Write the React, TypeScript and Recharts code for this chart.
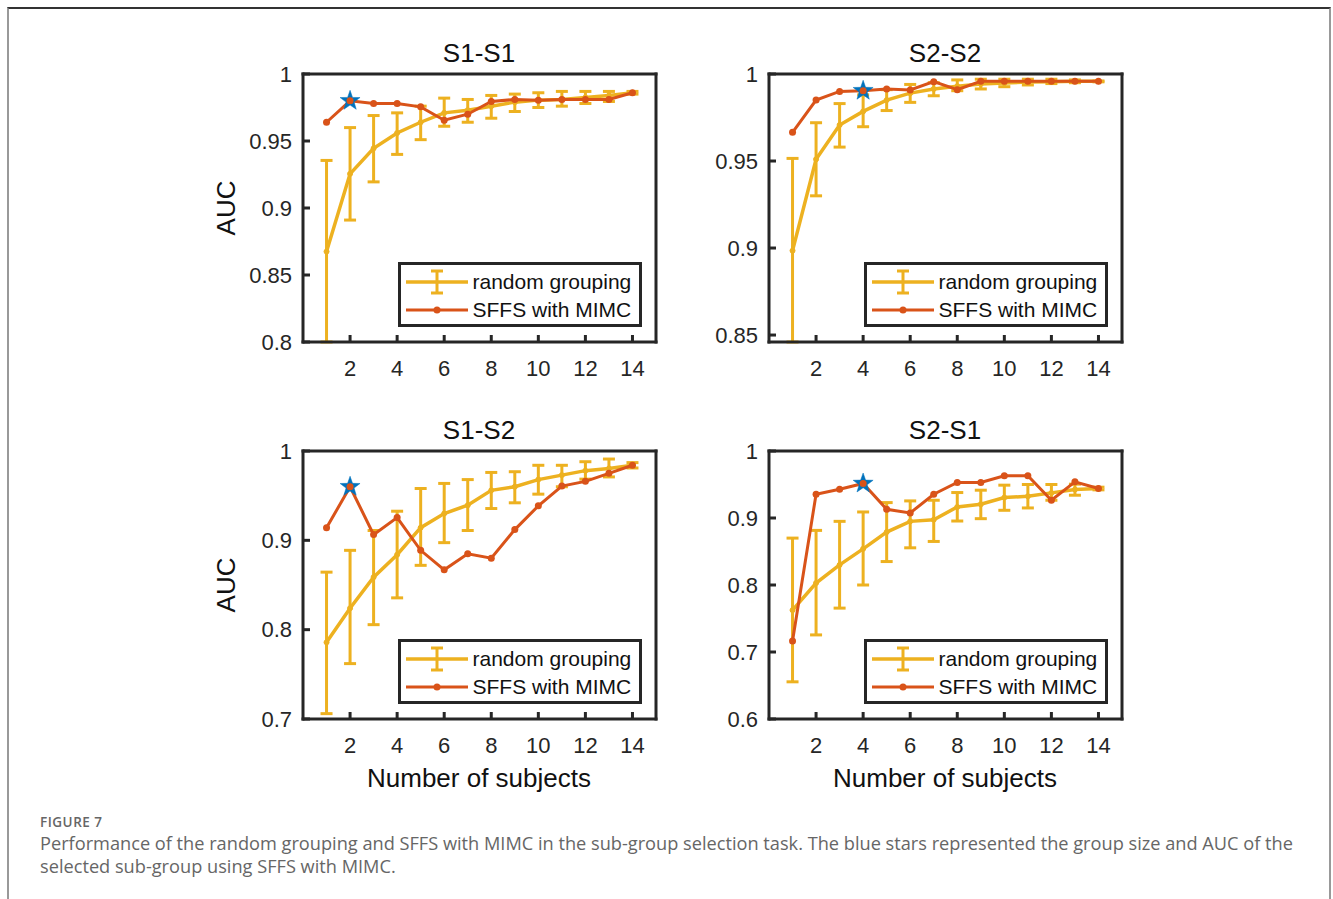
import React from 'react'
import { ComposedChart, ErrorBar, Legend, Line, Scatter, XAxis, YAxis } from 'recharts'

const subjects = [1, 2, 3, 4, 5, 6, 7, 8, 9, 10, 11, 12, 13, 14]
const xTicks = [2, 4, 6, 8, 10, 12, 14]

// S1-S1
const s11Mean = [0.8675, 0.9255, 0.9445, 0.956, 0.964, 0.971, 0.973, 0.976, 0.979, 0.9805, 0.981, 0.9825, 0.984, 0.986]
const s11Low = [0.8, 0.891, 0.9195, 0.94, 0.951, 0.961, 0.964, 0.967, 0.972, 0.975, 0.976, 0.978, 0.9795, 0.985]
const s11High = [0.9355, 0.96, 0.969, 0.971, 0.976, 0.982, 0.981, 0.984, 0.985, 0.986, 0.987, 0.987, 0.987, 0.987]
const s11Sffs = [0.964, 0.98, 0.978, 0.978, 0.9755, 0.9655, 0.97, 0.9795, 0.981, 0.9805, 0.981, 0.981, 0.981, 0.986]
const s11Ticks = [0.8, 0.85, 0.9, 0.95, 1]

// S2-S2
const s22Mean = [0.8985, 0.951, 0.9707, 0.9785, 0.985, 0.989, 0.9914, 0.993, 0.9943, 0.9948, 0.9954, 0.9956, 0.9958, 0.9958]
const s22Low = [0.846, 0.93, 0.958, 0.9697, 0.979, 0.9837, 0.9875, 0.9904, 0.9914, 0.9927, 0.9937, 0.9945, 0.995, 0.9955]
const s22High = [0.9515, 0.972, 0.983, 0.988, 0.991, 0.994, 0.995, 0.9966, 0.997, 0.997, 0.997, 0.997, 0.9966, 0.996]
const s22Sffs = [0.9665, 0.985, 0.99, 0.9904, 0.9914, 0.9908, 0.9956, 0.991, 0.9958, 0.9958, 0.9958, 0.9958, 0.9958, 0.9958]
const s22Ticks = [0.85, 0.9, 0.95, 1]

// S1-S2
const s12Mean = [0.7858, 0.824, 0.8588, 0.8839, 0.9142, 0.93, 0.9393, 0.956, 0.96, 0.968, 0.973, 0.978, 0.9805, 0.984]
const s12Low = [0.706, 0.762, 0.8056, 0.8356, 0.872, 0.8974, 0.911, 0.9356, 0.942, 0.9517, 0.96, 0.9685, 0.971, 0.981]
const s12High = [0.8644, 0.8888, 0.911, 0.9326, 0.958, 0.9637, 0.968, 0.976, 0.9768, 0.984, 0.984, 0.988, 0.991, 0.987]
const s12Sffs = [0.914, 0.96, 0.9064, 0.9255, 0.8888, 0.867, 0.885, 0.88, 0.912, 0.9386, 0.9607, 0.966, 0.975, 0.984]
const s12Ticks = [0.7, 0.8, 0.9, 1]

// S2-S1
const s21Mean = [0.7625, 0.803, 0.83, 0.854, 0.879, 0.895, 0.8975, 0.9165, 0.9205, 0.9305, 0.9325, 0.9375, 0.9425, 0.944]
const s21Low = [0.6555, 0.7255, 0.7655, 0.8, 0.835, 0.8555, 0.865, 0.8955, 0.899, 0.9115, 0.915, 0.9265, 0.934, 0.942]
const s21High = [0.87, 0.8815, 0.895, 0.909, 0.923, 0.9255, 0.9265, 0.938, 0.9415, 0.949, 0.95, 0.95, 0.9505, 0.946]
const s21Sffs = [0.7165, 0.9355, 0.943, 0.9515, 0.913, 0.9075, 0.9355, 0.953, 0.953, 0.963, 0.963, 0.9265, 0.954, 0.944]
const s21Ticks = [0.6, 0.7, 0.8, 0.9, 1]

const YELLOW = '#EDB120'
const RED = '#D95319'
const BLUE = '#0072BD'
const INK = '#262626'
const FONT = '"Liberation Sans", Arial, Helvetica, sans-serif'
const CAPTION_FONT = '"Open Sans", "Noto Sans", sans-serif'

// plot area size (px) shared by all four panels
const PW = 353
const PH = 268
const Y_AXIS_W = 110
const M_TOP = 60
const M_RIGHT = 20

const fmt = (v: number) => String(Number(v.toFixed(3)))

function StarShape(props: any) {
  const { cx, cy } = props
  if (cx == null || cy == null) return null
  const outer = 10.5
  const inner = 4.2
  const pts: string[] = []
  for (let i = 0; i < 10; i++) {
    const r = i % 2 === 0 ? outer : inner
    const a = -Math.PI / 2 + (i * Math.PI) / 5
    pts.push(`${cx + r * Math.cos(a)},${cy + r * Math.sin(a)}`)
  }
  return <polygon points={pts.join(' ')} fill={BLUE} stroke={BLUE} strokeWidth={0.5} />
}

function LegendBox() {
  return (
    <div
      style={{
        position: 'relative',
        boxSizing: 'border-box',
        width: 244,
        height: 65,
        border: `3px solid ${INK}`,
        background: '#fff',
        fontFamily: FONT,
        fontSize: 21,
        color: '#111',
      }}
    >
      <svg width={70} height={60} style={{ position: 'absolute', left: 0, top: 0 }}>
        <line x1={5} y1={17} x2={67} y2={17} stroke={YELLOW} strokeWidth={3.5} />
        <line x1={36} y1={6} x2={36} y2={28} stroke={YELLOW} strokeWidth={3} />
        <line x1={30} y1={6} x2={42} y2={6} stroke={YELLOW} strokeWidth={3} />
        <line x1={30} y1={28} x2={42} y2={28} stroke={YELLOW} strokeWidth={3} />
        <line x1={5} y1={45} x2={67} y2={45} stroke={RED} strokeWidth={3} />
        <circle cx={36} cy={45} r={3.5} fill={RED} />
      </svg>
      <div style={{ position: 'absolute', left: 72, top: 4, lineHeight: '26px', whiteSpace: 'nowrap' }}>
        random grouping
      </div>
      <div style={{ position: 'absolute', left: 72, top: 32, lineHeight: '26px', whiteSpace: 'nowrap' }}>
        SFFS with MIMC
      </div>
    </div>
  )
}

type PanelProps = {
  title: string
  mean: number[]
  low: number[]
  high: number[]
  sffs: number[]
  starN: number
  yDomain: [number, number]
  yTicks: number[]
  plotLeft: number
  plotTop: number
  yLabel?: boolean
  xLabel?: boolean
}

function Panel({ title, mean, low, high, sffs, starN, yDomain, yTicks, plotLeft, plotTop, yLabel, xLabel }: PanelProps) {
  const data = subjects.map((n, i) => ({
    n,
    rg: mean[i],
    rgErr: [mean[i] - low[i], high[i] - mean[i]],
    sffs: sffs[i],
  }))
  const star = [{ n: starN, auc: sffs[starN - 1] }]
  const chartLeft = plotLeft - Y_AXIS_W
  const chartTop = plotTop - M_TOP
  const axisLine = { stroke: INK, strokeWidth: 3, strokeLinecap: 'square' as const }
  const tickLine = { stroke: INK, strokeWidth: 3 }
  const tickStyle = { fontSize: 22, fill: INK, fontFamily: FONT }
  const labelStyle = {
    position: 'absolute' as const,
    fontFamily: FONT,
    fontSize: 26,
    lineHeight: '26px',
    color: '#111',
    textAlign: 'center' as const,
  }

  return (
    <>
      <div style={{ ...labelStyle, left: plotLeft, top: plotTop - 34, width: PW }}>{title}</div>
      {yLabel && (
        <div
          style={{
            ...labelStyle,
            left: 226 - 50,
            top: plotTop + PH / 2 - 13,
            width: 100,
            height: 26,
            transform: 'rotate(-90deg)',
          }}
        >
          AUC
        </div>
      )}
      {xLabel && (
        <div style={{ ...labelStyle, left: plotLeft, top: plotTop + PH + 46, width: PW }}>
          Number of subjects
        </div>
      )}
      <div style={{ position: 'absolute', left: chartLeft, top: chartTop }}>
        <ComposedChart
          width={Y_AXIS_W + PW + M_RIGHT}
          height={M_TOP + PH + 50}
          data={data}
          margin={{ top: M_TOP, right: M_RIGHT, left: 0, bottom: 10 }}
        >
          <XAxis
            xAxisId="main"
            dataKey="n"
            type="number"
            domain={[0, 15]}
            allowDataOverflow
            ticks={xTicks}
            height={40}
            tickSize={-7}
            tickMargin={25.5}
            tick={tickStyle}
            tickLine={tickLine}
            axisLine={axisLine}
          />
          <XAxis
            xAxisId="top"
            orientation="top"
            mirror
            type="number"
            domain={[0, 15]}
            allowDataOverflow
            ticks={xTicks}
            tick={false}
            tickSize={7}
            tickLine={tickLine}
            axisLine={axisLine}
          />
          <YAxis
            yAxisId="main"
            type="number"
            domain={yDomain}
            allowDataOverflow
            ticks={yTicks}
            width={Y_AXIS_W}
            tickSize={-7}
            tickMargin={18}
            tick={tickStyle}
            tickFormatter={fmt}
            tickLine={tickLine}
            axisLine={axisLine}
          />
          <YAxis
            yAxisId="right"
            orientation="right"
            mirror
            type="number"
            domain={yDomain}
            allowDataOverflow
            ticks={yTicks}
            tick={false}
            tickSize={7}
            tickLine={tickLine}
            axisLine={axisLine}
          />
          <Line
            xAxisId="main"
            yAxisId="main"
            dataKey="rg"
            stroke={YELLOW}
            strokeWidth={3.5}
            dot={{ r: 2.5, fill: YELLOW, stroke: YELLOW, strokeWidth: 1 }}
            isAnimationActive={false}
          >
            <ErrorBar dataKey="rgErr" width={6} strokeWidth={3} stroke={YELLOW} direction="y" />
          </Line>
          <Line
            xAxisId="main"
            yAxisId="main"
            dataKey="sffs"
            stroke={RED}
            strokeWidth={3}
            dot={{ r: 3.5, fill: RED, stroke: RED, strokeWidth: 0 }}
            isAnimationActive={false}
          />
          <Scatter
            xAxisId="main"
            yAxisId="main"
            data={star}
            dataKey="auc"
            shape={StarShape}
            isAnimationActive={false}
          />
          <Legend
            verticalAlign="middle"
            align="center"
            layout="horizontal"
            content={() => <LegendBox />}
            wrapperStyle={{
              left: Y_AXIS_W + PW - 14 - 244,
              top: M_TOP + PH - 14.5 - 65,
              width: 244,
              height: 65,
            }}
          />
        </ComposedChart>
      </div>
    </>
  )
}

export default function App() {
  return (
    <div style={{ position: 'absolute', left: 0, top: 0, width: 1333, height: 899, background: '#fff', overflow: 'hidden' }}>
      <div
        style={{
          position: 'absolute',
          left: 7,
          top: 7,
          width: 1320,
          height: 900,
          borderTop: '2px solid #333',
          borderLeft: '2px solid #999',
          borderRight: '2px solid #999',
        }}
      />
      <Panel title="S1-S1" mean={s11Mean} low={s11Low} high={s11High} sffs={s11Sffs} starN={2}
        yDomain={[0.8, 1]} yTicks={s11Ticks} plotLeft={302.5} plotTop={73.5} yLabel />
      <Panel title="S2-S2" mean={s22Mean} low={s22Low} high={s22High} sffs={s22Sffs} starN={4}
        yDomain={[0.846, 1]} yTicks={s22Ticks} plotLeft={768.5} plotTop={73.5} />
      <Panel title="S1-S2" mean={s12Mean} low={s12Low} high={s12High} sffs={s12Sffs} starN={2}
        yDomain={[0.7, 1]} yTicks={s12Ticks} plotLeft={302.5} plotTop={450.5} yLabel xLabel />
      <Panel title="S2-S1" mean={s21Mean} low={s21Low} high={s21High} sffs={s21Sffs} starN={4}
        yDomain={[0.6, 1]} yTicks={s21Ticks} plotLeft={768.5} plotTop={450.5} xLabel />
      <div
        style={{
          position: 'absolute',
          left: 40,
          top: 813,
          fontFamily: CAPTION_FONT,
          fontSize: 13.5,
          fontWeight: 600,
          letterSpacing: 0.5,
          color: '#666',
        }}
      >
        FIGURE 7
      </div>
      <div
        style={{
          position: 'absolute',
          left: 40,
          top: 832,
          width: 1290,
          fontFamily: CAPTION_FONT,
          fontSize: 18.2,
          lineHeight: '23px',
          color: '#666',
          whiteSpace: 'nowrap',
        }}
      >
        Performance of the random grouping and SFFS with MIMC in the sub-group selection task. The blue stars represented the group size and AUC of the
        <br />
        selected sub-group using SFFS with MIMC.
      </div>
    </div>
  )
}
